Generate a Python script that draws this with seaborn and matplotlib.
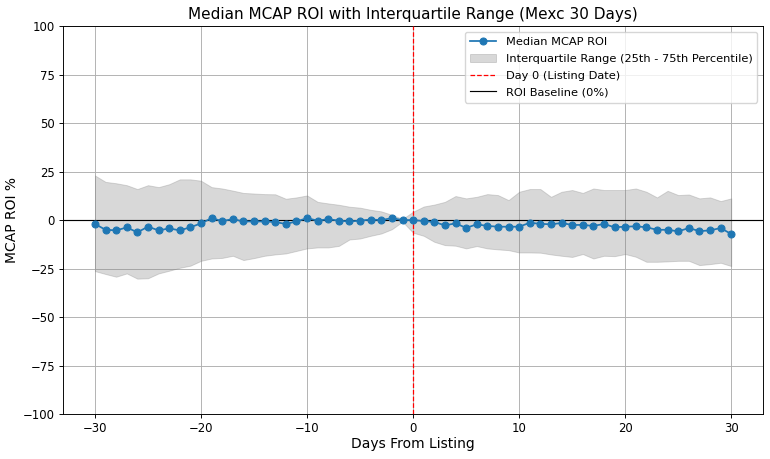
import numpy as np
import pandas as pd
import matplotlib
matplotlib.use("Agg")
import matplotlib.pyplot as plt
import seaborn as sns

days = list(range(-30, 31))

median_roi = [
    -2.0, -5.0, -5.3, -3.8, -6.3, -3.4, -5.3, -4.3, -5.3, -3.7,
    -1.7, 1.0, -0.5, 0.5, -0.7, -0.7, -0.7, -1.0, -2.0, -0.7,
    1.0, -0.3, 0.5, -0.3, -0.7, -0.3, 0.3, 0.0, 1.0, 0.0,
    0.0,
    -0.5, -1.0, -2.7, -1.7, -4.0, -2.2, -3.0, -3.4, -3.4, -3.4,
    -1.4, -1.9, -2.2, -1.5, -2.5, -2.5, -3.0, -2.0, -3.7, -3.4,
    -3.2, -3.7, -5.0, -5.0, -5.8, -4.1, -5.7, -5.3, -4.1, -7.2,
]

upper_q = [
    23.0, 19.7, 19.0, 18.0, 16.0, 18.0, 17.0, 18.5, 21.0, 21.0,
    20.3, 17.0, 16.3, 15.2, 14.0, 13.7, 13.4, 13.3, 11.0, 11.7,
    12.7, 9.4, 8.6, 7.9, 6.9, 6.4, 5.3, 4.5, 2.7, 0.6,
    4.3,
    7.0, 8.0, 9.4, 12.4, 11.2, 12.0, 13.4, 12.9, 10.3, 14.6,
    16.0, 16.0, 12.0, 14.6, 15.5, 14.0, 16.3, 15.5, 15.5, 15.5,
    16.3, 14.6, 11.7, 15.1, 12.9, 13.2, 11.2, 11.7, 9.8, 11.2,
]

lower_q = [
    -26.3, -27.8, -29.2, -27.5, -30.2, -30.0, -27.5, -26.1, -24.6, -23.5,
    -21.0, -19.8, -19.5, -18.4, -20.6, -19.6, -18.4, -17.7, -17.2, -15.9,
    -14.6, -14.1, -14.1, -13.3, -10.0, -9.5, -8.1, -6.9, -4.7, -0.8,
    -6.5,
    -8.1, -11.2, -12.9, -13.2, -14.6, -13.4, -14.6, -15.1, -15.5, -16.7,
    -16.7, -16.8, -17.7, -18.4, -19.0, -17.5, -19.8, -18.4, -18.6, -17.5,
    -18.9, -21.5, -21.5, -21.3, -21.0, -21.0, -23.2, -22.7, -22.0, -23.7,
]

df = pd.DataFrame({"day": days, "median": median_roi, "q25": lower_q, "q75": upper_q})

plt.rcdefaults()
k = 0.84
plt.rcParams.update({
    "font.family": ["DejaVu Sans"],
    "xtick.labelsize": 10 * k,
    "ytick.labelsize": 10 * k,
    "xtick.major.size": 3.5 * k,
    "ytick.major.size": 3.5 * k,
    "xtick.major.width": 0.8 * k,
    "ytick.major.width": 0.8 * k,
    "xtick.major.pad": 3.5 * k,
    "ytick.major.pad": 3.5 * k,
    "axes.linewidth": 0.8 * k,
})

fig = plt.figure(figsize=(7.7, 4.59), dpi=100)
ax = fig.add_axes([0.082, 0.098, 0.909, 0.845])

sns.lineplot(data=df, x="day", y="median", marker="o", color="#1f77b4",
             markeredgecolor="#1f77b4", markersize=6 * k, linewidth=1.5 * k,
             label="Median MCAP ROI", ax=ax, zorder=3)
ax.fill_between(df["day"], df["q25"], df["q75"], color="gray", alpha=0.3,
                linewidth=0.8 * k,
                label="Interquartile Range (25th - 75th Percentile)")
ax.axvline(0, color="#ff0000", linestyle="--", linewidth=0.9, zorder=2.6,
           label="Day 0 (Listing Date)")
ax.axhline(0, color="black", linewidth=1 * k, label="ROI Baseline (0%)", zorder=2.5)

ax.set_ylim(-100, 100)
ax.set_xlim(-33, 33)
ax.set_yticks(np.arange(-100, 101, 25))
ax.set_xticks([-30, -20, -10, 0, 10, 20, 30])
ax.grid(True, color="#b0b0b0", linewidth=0.8 * k)
ax.set_axisbelow(True)

ax.set_title("Median MCAP ROI with Interquartile Range (Mexc 30 Days)", fontsize=11, pad=5)
ax.set_xlabel("Days From Listing", fontsize=10, labelpad=1)
ax.set_ylabel("MCAP ROI %", fontsize=10, labelpad=3)

ax.legend(loc="upper right", fontsize=8.2, framealpha=0.8,
          handlelength=2.3, borderpad=0.45, labelspacing=0.6)

fig.savefig("out.png", dpi=100)
